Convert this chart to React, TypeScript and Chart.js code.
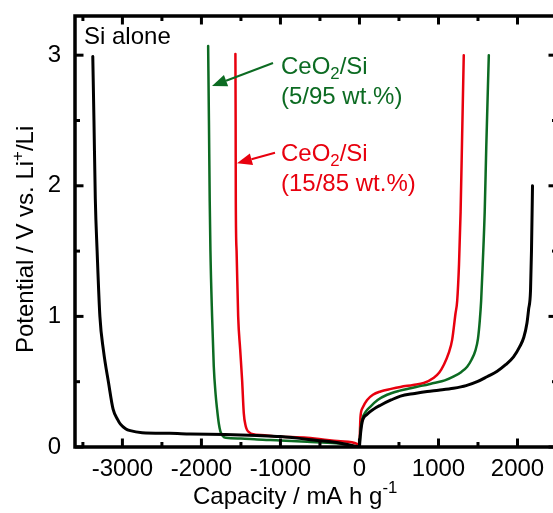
import React, { useEffect, useRef } from "react";
import { Chart, registerables } from "chart.js";

Chart.register(...registerables);

// ---------- data (capacity in mA h g-1, potential in V) ----------
const siDischargeCap = [-3375, -3360, -3343, -3320, -3285, -3240, -3175, -3118, -3060, -3025, -2960, -2900, -2750, -2400, -2140, -1700, -1300, -1000, -530, -250, 0];
const siDischargeV = [2.99, 2.5, 1.9, 1.5, 1.0, 0.74, 0.49, 0.29, 0.21, 0.175, 0.14, 0.125, 0.11, 0.105, 0.1, 0.095, 0.088, 0.08, 0.05, 0.03, 0];

const siChargeCap = [0, 10, 34, 97, 180, 266, 400, 519, 700, 857, 1000, 1190, 1350, 1490, 1620, 1743, 1850, 1950, 2030, 2080, 2120, 2140, 2165, 2177, 2190];
const siChargeV = [0, 0.08, 0.19, 0.25, 0.29, 0.32, 0.36, 0.39, 0.41, 0.425, 0.435, 0.45, 0.47, 0.5, 0.54, 0.58, 0.63, 0.69, 0.77, 0.84, 0.95, 1.05, 1.2, 1.5, 2.0];

const ce5DischargeCap = [-1915, -1905, -1895, -1886, -1865, -1844, -1820, -1802, -1780, -1760, -1730, -1690, -1500, -1295, -1000, -662, -300, 0];
const ce5DischargeV = [3.07, 2.5, 1.88, 1.5, 1.0, 0.62, 0.4, 0.29, 0.18, 0.12, 0.085, 0.07, 0.065, 0.057, 0.05, 0.04, 0.028, 0];

const ce5ChargeCap = [0, 10, 34, 80, 139, 230, 350, 500, 646, 800, 941, 1080, 1194, 1290, 1363, 1420, 1468, 1500, 1523, 1540, 1560, 1585, 1605, 1637];
const ce5ChargeV = [0, 0.1, 0.21, 0.27, 0.31, 0.36, 0.4, 0.43, 0.45, 0.47, 0.49, 0.51, 0.54, 0.575, 0.615, 0.67, 0.74, 0.83, 0.97, 1.12, 1.4, 1.8, 2.3, 3.0];

const ce15DischargeCap = [-1570, -1567, -1565, -1555, -1535, -1510, -1485, -1464, -1440, -1422, -1390, -1359, -1200, -1084, -662, -240, -30, 0];
const ce15DischargeV = [3.01, 2.5, 1.88, 1.5, 1.0, 0.75, 0.51, 0.26, 0.16, 0.13, 0.11, 0.1, 0.09, 0.082, 0.07, 0.044, 0.024, 0];

const ce15ChargeCap = [0, 5, 13, 40, 97, 170, 266, 400, 519, 680, 814, 941, 1010, 1068, 1130, 1173, 1215, 1237, 1260, 1280, 1300, 1320];
const ce15ChargeV = [0, 0.1, 0.23, 0.3, 0.36, 0.4, 0.425, 0.445, 0.46, 0.475, 0.49, 0.53, 0.57, 0.63, 0.72, 0.82, 1.02, 1.12, 1.4, 1.8, 2.4, 3.0];

const xTickValues = [-3000, -2000, -1000, 0, 1000, 2000];
const xMinorValues = [-3500, -2500, -1500, -500, 500, 1500, 2500];
const yTickValues = [0, 1, 2, 3];
const yMinorValues = [0.5, 1.5, 2.5];

const FONT = '"Liberation Sans", Arial, Helvetica, sans-serif';
const BLACK = "#000000";
const GREEN = "#0c6b22";
const RED = "#e8000e";

type Seg = { t: string; k?: "sup" | "sub" };

function pts(xs: number[], ys: number[]) {
  return xs.map((x, i) => ({ x, y: ys[i] }));
}

function drawRich(ctx: CanvasRenderingContext2D, segs: Seg[], x: number, y: number, size: number, color: string) {
  let cx = x;
  ctx.fillStyle = color;
  ctx.textAlign = "left";
  ctx.textBaseline = "alphabetic";
  for (const s of segs) {
    let fs = size;
    let dy = 0;
    if (s.k === "sup") {
      fs = size * 0.7;
      dy = -size * 0.42;
    } else if (s.k === "sub") {
      fs = size * 0.7;
      dy = size * 0.22;
    }
    ctx.font = `${fs}px ${FONT}`;
    ctx.fillText(s.t, cx, y + dy);
    cx += ctx.measureText(s.t).width;
  }
}

function drawArrow(ctx: CanvasRenderingContext2D, x0: number, y0: number, x1: number, y1: number, color: string) {
  const ang = Math.atan2(y1 - y0, x1 - x0);
  const hl = 15;
  const hw = 6;
  const bx = x1 - hl * Math.cos(ang);
  const by = y1 - hl * Math.sin(ang);
  ctx.strokeStyle = color;
  ctx.fillStyle = color;
  ctx.lineWidth = 2;
  ctx.beginPath();
  ctx.moveTo(x0, y0);
  ctx.lineTo(bx, by);
  ctx.stroke();
  ctx.beginPath();
  ctx.moveTo(x1, y1);
  ctx.lineTo(bx + hw * Math.sin(ang), by - hw * Math.cos(ang));
  ctx.lineTo(bx - hw * Math.sin(ang), by + hw * Math.cos(ang));
  ctx.closePath();
  ctx.fill();
}

const framePlugin = {
  id: "frameAndLabels",
  afterDraw(chart: any) {
    const { ctx, chartArea: a, scales } = chart;
    const xs = scales.x;
    const ys = scales.y;
    ctx.save();
    // frame
    ctx.strokeStyle = "#000";
    ctx.lineWidth = 3.5;
    ctx.strokeRect(a.left, a.top, a.right - a.left, a.bottom - a.top);
    // ticks (inward)
    ctx.lineWidth = 3;
    const tick = (x0: number, y0: number, x1: number, y1: number) => {
      ctx.beginPath();
      ctx.moveTo(x0, y0);
      ctx.lineTo(x1, y1);
      ctx.stroke();
    };
    for (const v of xTickValues) {
      const p = xs.getPixelForValue(v);
      tick(p, a.bottom, p, a.bottom - 8.5);
      tick(p, a.top, p, a.top + 8.5);
    }
    for (const v of xMinorValues) {
      const p = xs.getPixelForValue(v);
      tick(p, a.bottom, p, a.bottom - 5);
      tick(p, a.top, p, a.top + 5);
    }
    for (const v of yTickValues) {
      const p = ys.getPixelForValue(v);
      tick(a.left, p, a.left + 8.5, p);
      tick(a.right, p, a.right - 8.5, p);
    }
    for (const v of yMinorValues) {
      const p = ys.getPixelForValue(v);
      tick(a.left, p, a.left + 5, p);
      tick(a.right, p, a.right - 5, p);
    }

    // axis titles
    drawRich(ctx, [{ t: "Capacity / mA h g" }, { t: "-1", k: "sup" }], 193, 503.5, 24, "#000");
    ctx.save();
    ctx.translate(33, 353);
    ctx.rotate(-Math.PI / 2);
    drawRich(ctx, [{ t: "Potential / V vs. Li" }, { t: "+", k: "sup" }, { t: "/Li" }], 0, 0, 24, "#000");
    ctx.restore();

    // annotations
    drawRich(ctx, [{ t: "Si alone" }], 84, 44, 24, "#000");
    drawRich(ctx, [{ t: "CeO" }, { t: "2", k: "sub" }, { t: "/Si" }], 281, 74, 24, GREEN);
    drawRich(ctx, [{ t: "(5/95 wt.%)" }], 281, 104, 24, GREEN);
    drawRich(ctx, [{ t: "CeO" }, { t: "2", k: "sub" }, { t: "/Si" }], 281, 161, 24, RED);
    drawRich(ctx, [{ t: "(15/85 wt.%)" }], 281, 191, 24, RED);
    drawArrow(ctx, 273, 63, 212, 86, GREEN);
    drawArrow(ctx, 275, 152.7, 237, 163.3, RED);
    ctx.restore();
  },
};

export default function App() {
  const ref = useRef<HTMLCanvasElement | null>(null);
  useEffect(() => {
    if (!ref.current) return;
    const line = (data: any, color: string, w: number) => ({
      data,
      showLine: true,
      borderColor: color,
      backgroundColor: color,
      borderWidth: w,
      pointRadius: 0,
      cubicInterpolationMode: "monotone",
      fill: false,
      borderCapStyle: "round",
      borderJoinStyle: "round",
    });
    const zeroPad = (s: any) => {
      s.paddingTop = 0;
      s.paddingBottom = 0;
      s.paddingLeft = 0;
      s.paddingRight = 0;
    };
    const chart = new Chart(ref.current, {
      type: "scatter",
      data: {
        datasets: [
          line(pts(siDischargeCap, siDischargeV), BLACK, 3),
          line(pts(siChargeCap, siChargeV), BLACK, 3),
          line(pts(ce5DischargeCap, ce5DischargeV), GREEN, 2.5),
          line(pts(ce5ChargeCap, ce5ChargeV), GREEN, 2.5),
          line(pts(ce15DischargeCap, ce15DischargeV), RED, 2.5),
          line(pts(ce15ChargeCap, ce15ChargeV), RED, 2.5),
        ] as any,
      },
      options: {
        responsive: false,
        animation: false,
        devicePixelRatio: 1,
        layout: { padding: { top: 16, right: 0, left: 0, bottom: 0 } },
        plugins: { legend: { display: false }, tooltip: { enabled: false } },
        scales: {
          x: {
            type: "linear",
            min: -3600,
            max: 2500,
            grid: { display: false, drawTicks: false },
            border: { display: false },
            ticks: {
              color: "#000",
              font: { family: FONT, size: 24 },
              padding: 8,
              maxRotation: 0,
              autoSkip: false,
              callback: (v: any) => String(v),
            },
            afterBuildTicks: (s: any) => {
              s.ticks = xTickValues.map((v) => ({ value: v }));
            },
            afterFit: (s: any) => {
              s.height = 66;
              zeroPad(s);
            },
          },
          y: {
            type: "linear",
            min: 0,
            max: 3.3,
            grid: { display: false, drawTicks: false },
            border: { display: false },
            ticks: {
              color: "#000",
              font: { family: FONT, size: 24 },
              padding: 14,
              autoSkip: false,
              callback: (v: any) => String(v),
            },
            afterBuildTicks: (s: any) => {
              s.ticks = yTickValues.map((v) => ({ value: v }));
            },
            afterFit: (s: any) => {
              s.width = 75;
              zeroPad(s);
            },
          },
        },
      } as any,
      plugins: [framePlugin],
    });
    return () => chart.destroy();
  }, []);
  return (
    <div style={{ position: "absolute", left: 0, top: 0, width: 553, height: 513, overflow: "hidden", background: "#fff" }}>
      <canvas ref={ref} width={557} height={513} style={{ display: "block" }} />
    </div>
  );
}
